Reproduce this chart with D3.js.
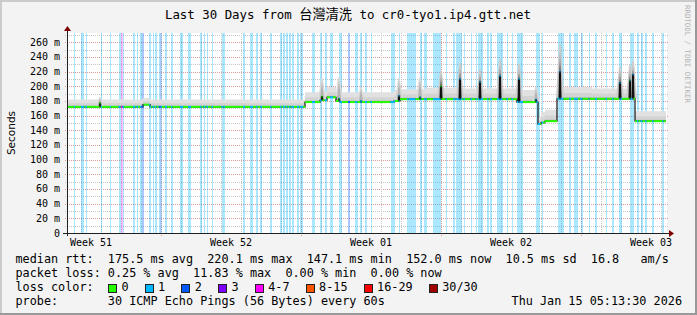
<!DOCTYPE html>
<html>
<head>
<meta charset="utf-8">
<script src="https://cdn.jsdelivr.net/npm/d3@7/dist/d3.min.js"></script>
<style>
  body { margin: 0; background: #f3f3f3; }
  svg { display: block; }
  text { font-family: "DejaVu Sans Mono", monospace; fill: #000; white-space: pre; }
</style>
</head>
<body>
<script>
// smokeping style latency graph, last 30 days

// graph window (UTC) and value range
var startTime = Date.UTC(2025, 11, 16, 7, 12),
    spanDays = 30,
    yMax = 272.7;

var yTickValues = [0, 20, 40, 60, 80, 100, 120, 140, 160, 180, 200, 220, 240, 260];
var weekStarts = ['2025-12-14', '2025-12-21', '2025-12-28', '2026-01-04', '2026-01-11'];
var weekLabels = ['Week 51', 'Week 52', 'Week 01', 'Week 02', 'Week 03'];

// median rtt plateaus: [from hour, to hour, median ms, top of smoke ms]
var levels = [
  [0, 91.2, 172, 182], [91.2, 99.6, 175, 184], [99.6, 285.6, 172, 182],
  [285.6, 303.6, 178.5, 192], [303.6, 312, 181, 193], [312, 322.8, 185, 199],
  [322.8, 327.6, 180, 194], [327.6, 392.4, 178.5, 192], [392.4, 399.6, 180, 195],
  [399.6, 430, 182.5, 196], [430, 470, 182.5, 198], [470, 540, 182.5, 197],
  [540, 565.2, 178.5, 195], [565.2, 568.8, 148.5, 158], [568.8, 573.6, 150.5, 165],
  [573.6, 588, 152.5, 168], [588, 630, 183, 199], [630, 681.6, 183, 197],
  [681.6, 718.8, 152.5, 166]
];

// short spikes: [hour, median peak ms, top of smoke ms]
var spikes = [
  [39.6, 177, 186], [306, 186, 212], [326.4, 183, 213], [352.8, 180, 200],
  [398.4, 187, 212], [423.6, 185, 213], [448.8, 200, 222], [471.6, 210, 233],
  [495.6, 206, 224], [519.6, 214, 238], [542.4, 210, 232], [562.8, 182, 200],
  [591.6, 220.1, 258], [663.6, 205, 228], [675.6, 208, 230], [679.2, 216, 236]
];

// periods with packet loss: [from hour, to hour, loss class]
var lossBars = [
  [8.4,9.6,1],[16.8,20.4,1],[22.2,24,1],[40.8,42,1],[51.6,52.8,1],[61.8,64.2,1],
  [64.8,66.6,4],[66.6,68.4,1],[79.2,81.6,1],[83.4,85.2,1],[87.6,89.4,1],[89.4,91.8,2],
  [98.4,100.8,1],[102.6,104.4,1],[105.6,107.4,1],[109.8,111,1],[111,112.2,2],[112.2,114,1],
  [117.6,120,1],[124.8,126.6,1],[135.6,139.2,1],[145.2,148.8,1],[159.6,161.4,1],[163.8,165.6,1],
  [167.4,169.2,1],[173.4,175.2,1],[185.4,187.8,1],[188.4,189.6,1],[211.2,213.6,1],[219.6,223.2,1],
  [226.8,228.6,1],[231.6,234,1],[243.6,245.4,1],[255.6,257.4,1],[259.2,261.6,1],[262.8,264.6,1],
  [266.4,268.2,1],[269.4,272.4,1],[276,278.4,1],[279.6,283.2,1],[294,297.6,1],[303.6,305.4,1],
  [309.6,312,1],[315.6,319.2,1],[326.4,330,1],[337.2,339.6,2],[345.6,348.6,1],[351.6,354,1],
  [357.6,360,1],[364.2,366,1],[388.2,393.6,1],[397.8,399.6,1],[408,409.8,1],[410.4,418.2,1],
  [423.6,425.4,1],[428.4,432,1],[439.2,448.2,1],[454.2,456,1],[463.2,465.6,1],[466.2,474,1],
  [475.8,477.6,1],[484.2,486,1],[490.2,492,1],[493.2,499.2,1],[504,505.8,1],[507.6,510,1],
  [516,522.6,1],[527.4,529.2,1],[533.4,535.2,1],[540,547.2,1],[562.2,567.6,1],[569.4,571.2,1],
  [588.6,595.8,1],[602.4,604.8,1],[608.4,613.2,1],[616.2,618.6,1],[625.8,627,1],[633.6,636,1],
  [646.2,648,1],[654,655.8,1],[662.4,666,1],[675.6,679.8,1],[684,685.8,1],[688.2,690.6,1],
  [693.6,695.4,1],[702,703.8,1],[714,715.8,1]
];

var lossNames = ['0', '1', '2', '3', '4-7', '8-15', '16-29', '30/30'];
var lossColors = ['#26ff00', '#00b8ff', '#0059ff', '#7e00ff', '#ff00ff', '#ff5500', '#ff0000', '#a10000'];

var rttStats = [175.5, 220.1, 147.1, 152.0, 10.5],
    rttStatNames = ['avg', 'max', 'min', 'now', 'sd'],
    amPerSec = 16.8;
var lossStats = [0.25, 11.83, 0.00, 0.00],
    lossStatNames = ['avg', 'max', 'min', 'now'];
var probeText = '30 ICMP Echo Pings (56 Bytes) every 60s',
    stamp = 'Thu Jan 15 05:13:30 2026';
var titleParts = ['Last 30 Days from ', '台灣清洗', ' to cr0-tyo1.ip4.gtt.net'];

var W = 697, H = 315;
var pL = 67, pR = 667, pT = 33, pB = 233;

var svg = d3.select('body').append('svg').attr('width', W).attr('height', H);

var x = d3.scaleUtc()
  .domain([new Date(startTime), new Date(startTime + spanDays * 864e5)])
  .range([pL, pR]);
var y = d3.scaleLinear().domain([0, yMax]).range([pB, pT]);
function hx(h) { return x(new Date(startTime + h * 36e5)); }

// background and frame
svg.append('rect').attr('width', W).attr('height', H).attr('fill', '#f3f3f3');
svg.append('rect').attr('width', W).attr('height', 2).attr('fill', '#cbcbcb');
svg.append('rect').attr('width', 2).attr('height', H).attr('fill', '#cbcbcb');
svg.append('rect').attr('y', H - 2).attr('width', W).attr('height', 2).attr('fill', '#999');
svg.append('rect').attr('x', W - 2).attr('width', 2).attr('height', H).attr('fill', '#999');

svg.append('rect').attr('x', pL).attr('y', pT).attr('width', pR - pL).attr('height', pB - pT)
  .attr('fill', '#fff');

svg.append('clipPath').attr('id', 'plot').append('rect')
  .attr('x', pL).attr('y', pT).attr('width', pR - pL).attr('height', pB - pT);

// grid
var grid = svg.append('g').attr('shape-rendering', 'crispEdges');
var minorCol = '#c6c6c6', majorCol = '#e59a9a';
y.ticks(27).forEach(function(v) {
  if (v === 0) return;
  var major = v % 20 === 0, yy = Math.round(y(v)) + 0.5;
  grid.append('line').attr('x1', pL - 2).attr('x2', pR + 2).attr('y1', yy).attr('y2', yy)
    .attr('stroke', major ? majorCol : minorCol).attr('stroke-dasharray', '1,1');
});
d3.utcDay.range(x.domain()[0], x.domain()[1]).forEach(function(d) {
  var major = d.getUTCDay() === 0, xx = Math.round(x(d)) + 0.5;
  grid.append('line').attr('x1', xx).attr('x2', xx).attr('y1', pT).attr('y2', pB + (major ? 3 : 2))
    .attr('stroke', major ? majorCol : minorCol).attr('stroke-dasharray', '1,1');
});

var plot = svg.append('g').attr('clip-path', 'url(#plot)');

// loss background bars
plot.selectAll('rect.loss').data(lossBars).enter().append('rect')
  .attr('class', 'loss')
  .attr('x', function(d) { return hx(d[0]); })
  .attr('width', function(d) { return Math.max(1, hx(d[1]) - hx(d[0])); })
  .attr('y', pT).attr('height', pB - pT)
  .attr('fill', function(d) { return lossColors[d[2]]; })
  .attr('fill-opacity', function(d) { return d[2] > 3 ? 0.25 : 0.33; })
  .attr('shape-rendering', 'crispEdges');

// smoke around the median
var stepPts = levels.map(function(l) { return { h: l[0], m: l[2], t: l[3] }; });
var lastLevel = levels[levels.length - 1];
stepPts.push({ h: lastLevel[1], m: lastLevel[2], t: lastLevel[3] });

[[1, '#e1e1e1'], [0.5, '#d3d3d3'], [0.15, '#bfbfbf']].forEach(function(b) {
  var area = d3.area().curve(d3.curveStepAfter)
    .x(function(d) { return hx(d.h); })
    .y0(function(d) { return y(d.m - 1); })
    .y1(function(d) { return y(d.m + b[0] * (d.t - d.m)); });
  plot.append('path').datum(stepPts).attr('d', area).attr('fill', b[1]);
});

function levelAt(h) {
  for (var i = 0; i < levels.length; i++) if (h >= levels[i][0] && h < levels[i][1]) return levels[i];
  return lastLevel;
}

// spike smoke: wide light glow, grey body, dark core
var tri = d3.area().x(function(d) { return hx(d[0]); }).y0(function(d) { return y(d[1]); })
  .y1(function(d) { return y(d[2]); });
spikes.forEach(function(s) {
  var h = s[0], m = levelAt(h)[2], dark = s[1] - m > 10;
  plot.append('path').attr('d', tri([[h - 4.8, m, m], [h - 1.2, m, s[2] - 2], [h, m, s[2]], [h + 1.2, m, s[2] - 3], [h + 4.8, m, m]]))
    .attr('fill', dark ? '#cdcdcd' : '#d9d9d9');
  plot.append('path').attr('d', tri([[h - 2.6, m, m], [h, m, m + 0.85 * (s[2] - m)], [h + 2.6, m, m]]))
    .attr('fill', dark ? '#8c8c8c' : '#b4b4b4');
  if (dark) {
    plot.append('path').attr('d', tri([[h - 1.6, m, m], [h, m, s[1] + 0.35 * (s[2] - s[1])], [h + 1.6, m, m]]))
      .attr('fill', '#333');
  }
});

// median series: plateaus plus spike peaks
var medPts = levels.map(function(l) { return { h: l[0], v: l[2] }; });
spikes.forEach(function(s) {
  medPts.push({ h: s[0] - 0.6, v: s[1] });
  medPts.push({ h: s[0] + 0.6, v: levelAt(s[0])[2] });
});
medPts.sort(function(a, b) { return a.h - b.h; });
medPts.push({ h: lastLevel[1], v: lastLevel[2] });

plot.append('path').datum(medPts)
  .attr('d', d3.line().curve(d3.curveStepAfter).x(function(d) { return hx(d.h); }).y(function(d) { return y(d.v); }))
  .attr('fill', 'none').attr('stroke', '#111').attr('stroke-width', 1.2);

// coloured median, colour by loss in that interval
function lossAt(h) {
  for (var i = 0; i < lossBars.length; i++) if (h >= lossBars[i][0] && h < lossBars[i][1]) return lossBars[i][2];
  return 0;
}
for (var i = 0; i < medPts.length - 1; i++) {
  var a = medPts[i], b = medPts[i + 1];
  if (b.h <= a.h) continue;
  var cuts = [a.h, b.h];
  lossBars.forEach(function(l) {
    if (l[0] > a.h && l[0] < b.h) cuts.push(l[0]);
    if (l[1] > a.h && l[1] < b.h) cuts.push(l[1]);
  });
  cuts.sort(function(p, q) { return p - q; });
  for (var j = 0; j < cuts.length - 1; j++) {
    var c = lossColors[lossAt((cuts[j] + cuts[j + 1]) / 2)];
    plot.append('line')
      .attr('x1', hx(cuts[j])).attr('x2', hx(cuts[j + 1]))
      .attr('y1', y(a.v)).attr('y2', y(a.v))
      .attr('stroke', c).attr('stroke-width', 2);
  }
}

// axes
var axisCol = '#202020', arrowCol = '#7f0000';
svg.append('line').attr('x1', pL - 4).attr('x2', pR + 3).attr('y1', pB + 0.5).attr('y2', pB + 0.5)
  .attr('stroke', axisCol).attr('shape-rendering', 'crispEdges');
svg.append('line').attr('x1', pL + 0.5).attr('x2', pL + 0.5).attr('y1', pB + 3).attr('y2', pT - 4)
  .attr('stroke', axisCol).attr('shape-rendering', 'crispEdges');
svg.append('path').attr('d', 'M' + (pR + 7) + ',' + (pB + 0.5) + 'l-5,-3.5v7z').attr('fill', arrowCol);
svg.append('path').attr('d', 'M' + (pL + 0.5) + ',' + (pT - 7) + 'l-3.5,5h7z').attr('fill', arrowCol);

// y tick labels
svg.selectAll('text.ytick').data(yTickValues).enter().append('text')
  .attr('class', 'ytick')
  .attr('x', pL - 7).attr('y', function(d) { return y(d) + 3.5; })
  .attr('text-anchor', 'end').attr('font-size', '10px')
  .text(function(d) { return d === 0 ? '0' : d + ' m'; });

// week labels, centred in each week
svg.selectAll('text.week').data(weekStarts).enter().append('text')
  .attr('class', 'week')
  .attr('x', function(d) { return x(new Date(Date.parse(d + 'T00:00:00Z') + 3.5 * 864e5)); })
  .attr('y', 246).attr('text-anchor', 'middle').attr('font-size', '10px')
  .text(function(d, i) { return weekLabels[i]; });

// axis title
svg.append('text').attr('transform', 'translate(14.5,133) rotate(-90)')
  .attr('text-anchor', 'middle').attr('font-size', '10.5px')
  .style('font-family', '"DejaVu Sans", sans-serif')
  .text('Seconds');

// title
var t = svg.append('text').attr('x', 348).attr('y', 19).attr('text-anchor', 'middle').attr('font-size', '12.4px');
t.append('tspan').text(titleParts[0]);
t.append('tspan').style('font-family', '"Noto Sans CJK TC", sans-serif').attr('font-size', '13.2px').text(titleParts[1]);
t.append('tspan').text(titleParts[2]);

// watermark
svg.append('text').attr('transform', 'translate(684.5,5) rotate(90)')
  .attr('font-size', '7.4px').style('fill', '#b4b4b4')
  .text('RRDTOOL / TOBI OETIKER');

// legend block
var fs = '11.8px', lx = 15.5;
var row1 = 'median rtt:  ' + rttStats.map(function(v, i) { return v.toFixed(1) + ' ms ' + rttStatNames[i]; }).join('  ') +
  '  ' + amPerSec.toFixed(1) + '   am/s';
var row2 = 'packet loss: ' + lossStats.map(function(v, i) { return v.toFixed(2) + ' % ' + lossStatNames[i]; }).join('  ');
svg.append('text').attr('x', lx).attr('y', 263).attr('font-size', fs).text(row1);
svg.append('text').attr('x', lx).attr('y', 277).attr('font-size', fs).text(row2);
svg.append('text').attr('x', lx).attr('y', 291).attr('font-size', fs).text('loss color:');
svg.append('text').attr('x', lx).attr('y', 305).attr('font-size', fs).text('probe:       ' + probeText);
svg.append('text').attr('x', 682).attr('y', 305).attr('font-size', fs).attr('text-anchor', 'end').text(stamp);

var charW = 7.1, cursor = 108;
lossNames.forEach(function(n, i) {
  svg.append('rect').attr('x', cursor + 0.5).attr('y', 284.5).attr('width', 8).attr('height', 8)
    .attr('fill', lossColors[i]).attr('stroke', '#222').attr('shape-rendering', 'crispEdges');
  svg.append('text').attr('x', cursor + 13.4).attr('y', 291).attr('font-size', fs).text(n);
  cursor = cursor + 14 + n.length * charW + 15.6;
});
</script>
</body>
</html>
